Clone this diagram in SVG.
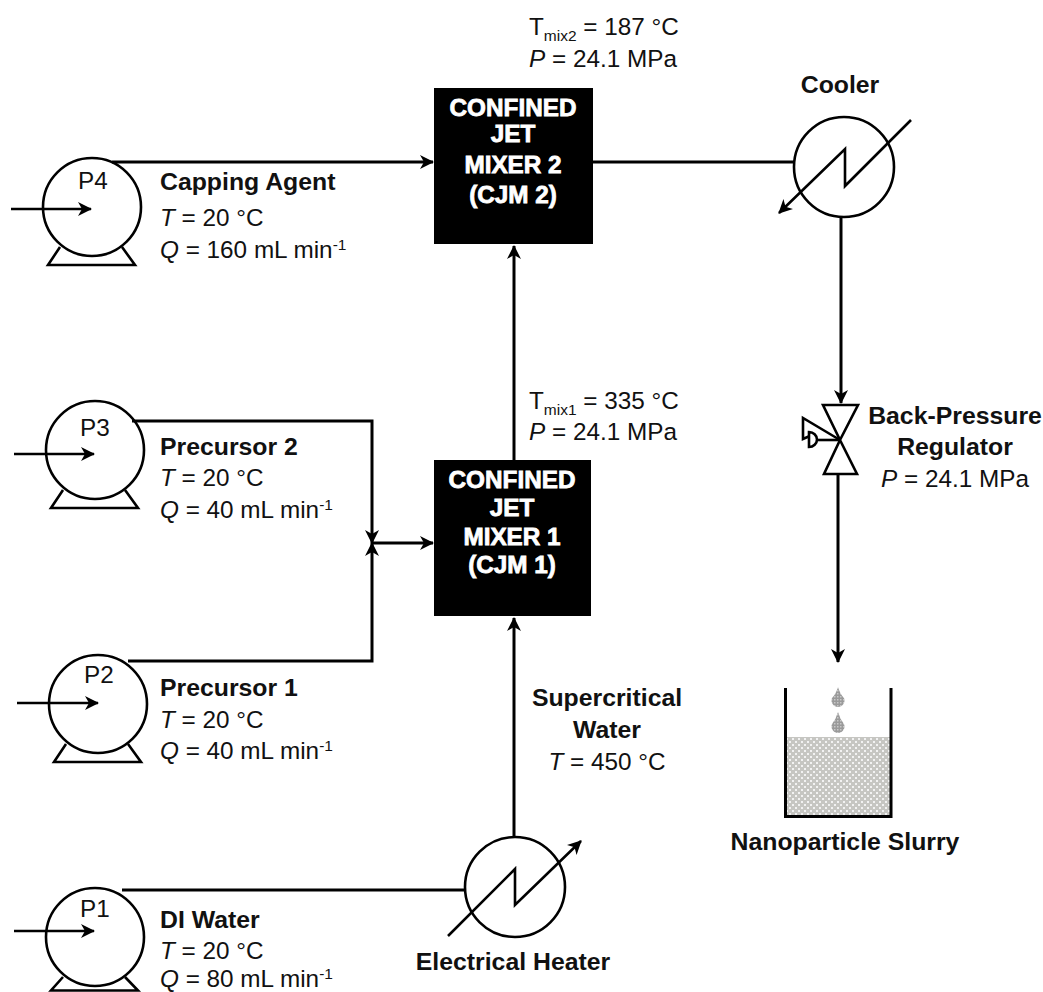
<svg xmlns="http://www.w3.org/2000/svg" width="1043" height="992" viewBox="0 0 1043 992">
<style>
text{font-family:"Liberation Sans",Arial,sans-serif;font-size:24.300px;fill:#111}
.b{font-weight:bold;font-size:24.800px}
.m{text-anchor:middle}
.w{fill:#fff;font-weight:bold;text-anchor:middle;font-size:24.300px;stroke:#fff;stroke-width:.8px}
.s{fill:none;stroke:#000;stroke-width:3}
.t{fill:none;stroke:#000;stroke-width:2.6}
.sub{font-size:15.500px}
.sup{font-size:15.500px}
.i{font-style:italic}
</style>
<defs>
<marker id="a" markerWidth="16" markerHeight="14" refX="13" refY="7" orient="auto" markerUnits="userSpaceOnUse"><path d="M0,0 L14,7 L0,14 L4,7Z" fill="#000"/></marker>
<pattern id="d" width="6" height="6" patternUnits="userSpaceOnUse"><rect width="6" height="6" fill="#c6c6c2"/><rect x="0" y="0" width="2" height="2" fill="#f2f2f2"/><rect x="3" y="3" width="2" height="2" fill="#f2f2f2"/></pattern>
<pattern id="e" width="3" height="3" patternUnits="userSpaceOnUse"><rect width="3" height="3" fill="#9a9a9a"/><rect width="1.500" height="1.500" fill="#c8c8c8"/></pattern>
</defs>
<g id="connectors">
<path class="s" d="M112,162H433" marker-end="url(#a)"/>
<path class="s" d="M593,162H794"/>
<path class="s" d="M132,421H372V543" marker-end="url(#a)"/>
<path class="s" d="M128,661H372V543" marker-end="url(#a)"/>
<path class="s" d="M372,543H433" marker-end="url(#a)"/>
<path class="s" d="M514,460V246" marker-end="url(#a)"/>
<path class="s" d="M514,837V618" marker-end="url(#a)"/>
<path class="s" d="M122,890H465"/>
<path class="s" d="M841,217V403" marker-end="url(#a)"/>
<path class="s" d="M838,474V662" marker-end="url(#a)"/>
</g>
<g id="P4">
<path class="t" d="M60,247L48,265H135L122,247"/><circle class="t" cx="92" cy="207" r="49" fill="#fff"/>
<path class="t" d="M11,209H91" marker-end="url(#a)"/><text x="78" y="189">P4</text>
</g>
<g id="P3">
<path class="t" d="M63,490L51,508H138L125,490"/><circle class="t" cx="95" cy="450" r="49" fill="#fff"/>
<path class="t" d="M14,454H94" marker-end="url(#a)"/><text x="80" y="436">P3</text>
</g>
<g id="P2">
<path class="t" d="M66,744L54,762H141L128,744"/><circle class="t" cx="98" cy="704" r="49" fill="#fff"/>
<path class="t" d="M17,703H98" marker-end="url(#a)"/><text x="84" y="683">P2</text>
</g>
<g id="P1">
<path class="t" d="M63,977L51,990.500H138L125,977"/><circle class="t" cx="95" cy="937" r="49" fill="#fff"/>
<path class="t" d="M14,931H94" marker-end="url(#a)"/><text x="80" y="917">P1</text>
</g>
<g id="labelP4"><text class="b" x="160" y="190">Capping Agent</text><text x="160" y="226"><tspan class="i">T</tspan> = 20 °C</text><text x="160" y="258"><tspan class="i">Q</tspan> = 160 mL min<tspan class="sup" dy="-8">-1</tspan></text></g>
<g id="labelP3"><text class="b" x="160" y="455">Precursor 2</text><text x="160" y="486"><tspan class="i">T</tspan> = 20 °C</text><text x="160" y="518"><tspan class="i">Q</tspan> = 40 mL min<tspan class="sup" dy="-8">-1</tspan></text></g>
<g id="labelP2"><text class="b" x="160" y="696">Precursor 1</text><text x="160" y="728"><tspan class="i">T</tspan> = 20 °C</text><text x="160" y="759"><tspan class="i">Q</tspan> = 40 mL min<tspan class="sup" dy="-8">-1</tspan></text></g>
<g id="labelP1"><text class="b" x="160" y="928">DI Water</text><text x="160" y="959"><tspan class="i">T</tspan> = 20 °C</text><text x="160" y="987"><tspan class="i">Q</tspan> = 80 mL min<tspan class="sup" dy="-8">-1</tspan></text></g>
<g id="CJM2"><rect x="434" y="88" width="159" height="156" fill="#000"/>
<text class="w" x="513" y="116">CONFINED</text><text class="w" x="513" y="142">JET</text><text class="w" x="513" y="173">MIXER 2</text><text class="w" x="513" y="203">(CJM 2)</text></g>
<g id="CJM1"><rect x="434" y="460" width="157" height="156" fill="#000"/>
<text class="w" x="512" y="488">CONFINED</text><text class="w" x="512" y="516">JET</text><text class="w" x="512" y="545">MIXER 1</text><text class="w" x="512" y="573">(CJM 1)</text></g>
<g id="labelMix2"><text x="529" y="35">T<tspan class="sub" dy="6">mix2</tspan><tspan dy="-6"> = 187 °C</tspan></text><text x="529" y="67"><tspan class="i">P</tspan> = 24.1 MPa</text></g>
<g id="labelMix1"><text x="529" y="409">T<tspan class="sub" dy="6">mix1</tspan><tspan dy="-6"> = 335 °C</tspan></text><text x="529" y="440"><tspan class="i">P</tspan> = 24.1 MPa</text></g>
<g id="labelSCW"><text class="b m" x="607" y="706">Supercritical</text><text class="b m" x="607" y="738">Water</text><text class="m" x="607" y="770"><tspan class="i">T</tspan> = 450 °C</text></g>
<g id="heater"><circle class="t" cx="515" cy="887" r="50" fill="#fff"/>
<path class="t" d="M448,936L515,869V905L581,841" marker-end="url(#a)"/>
<text class="b m" x="513" y="970">Electrical Heater</text></g>
<g id="cooler"><circle class="t" cx="844" cy="167" r="50" fill="#fff"/>
<path class="t" d="M911,120L845,186V149L779,213" marker-end="url(#a)"/>
<text class="b m" x="840" y="93">Cooler</text></g>
<g id="valve">
<path class="t" d="M823,405H858L840,440L857,474H824L840,440Z"/>
<path class="t" d="M840,440L803,418V439L812,435"/>
<path class="t" d="M840,440H817"/>
<path d="M809,432A8,7.500 0 0 1 809,447Z" fill="#fff" stroke="#000" stroke-width="2.600"/>
<text class="b m" x="955" y="424">Back-Pressure</text><text class="b m" x="955" y="455">Regulator</text><text class="m" x="955" y="487"><tspan class="i">P</tspan> = 24.1 MPa</text></g>
<g id="beaker">
<rect x="786" y="737" width="104" height="79" fill="url(#d)"/>
<path fill="url(#e)" d="M838,687Q840,694 844,698A6.500,6.500 0 1 1 832,698Q836,694 838,687Z"/>
<path fill="url(#e)" d="M838,712Q840,719 844,724A6.500,6.500 0 1 1 832,724Q836,719 838,712Z"/>
<path class="s" d="M785.500,688V816.500H891V688"/>
<text class="b m" x="845" y="850">Nanoparticle Slurry</text></g>
</svg>
